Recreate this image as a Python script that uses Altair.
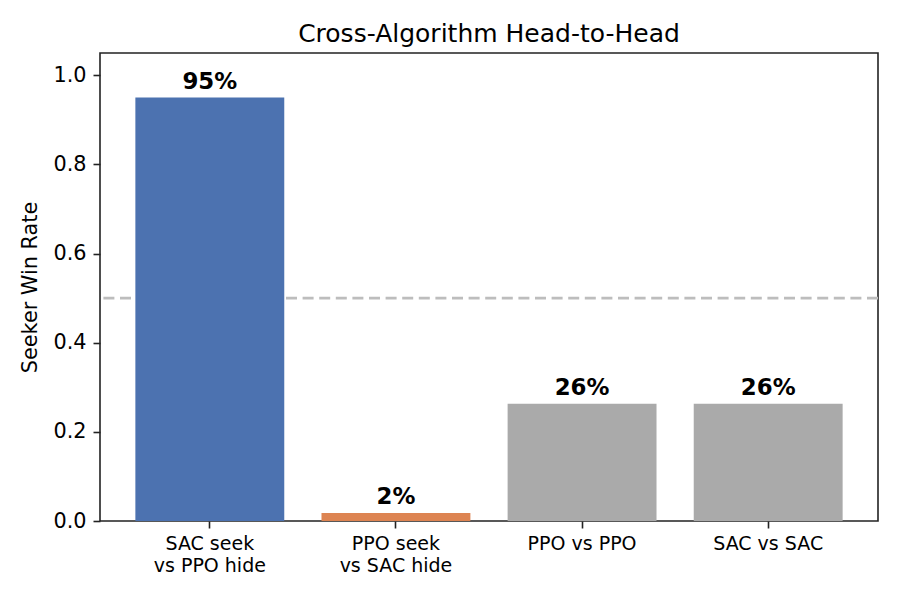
import pandas as pd
import altair as alt

# Data
matchups = ['SAC seek\nvs PPO hide', 'PPO seek\nvs SAC hide', 'PPO vs PPO', 'SAC vs SAC']
win_rates = [0.95, 0.018, 0.263, 0.263]
bar_colors = ['#4C72B0', '#DD8452', '#AAAAAA', '#AAAAAA']
chance_level = [0.5]

df = pd.DataFrame({'matchup': matchups, 'win_rate': win_rates, 'color': bar_colors})
ref = pd.DataFrame({'y': chance_level})

FONT = 'DejaVu Sans'

x_enc = alt.X('matchup:N', sort=matchups, title=None,
              scale=alt.Scale(paddingInner=0.2, paddingOuter=0.19),
              axis=alt.Axis(labelAngle=0, labelExpr="split(datum.label, '\\n')",
                            labelFontSize=19, labelLineHeight=22, labelPadding=6,
                            labelColor='#000', tickColor='#222', tickSize=7,
                            tickWidth=1.6, domain=False))
y_enc = alt.Y('win_rate:Q', title='Seeker Win Rate',
              scale=alt.Scale(domain=[0, 1.05], nice=False),
              axis=alt.Axis(values=[0, 0.2, 0.4, 0.6, 0.8, 1.0], format='.1f',
                            grid=False, labelFontSize=20.8, labelColor='#000',
                            labelPadding=7, tickColor='#222', tickSize=7, tickWidth=1.6,
                            titleFontSize=20.8, titleFontWeight='normal', titleColor='#000',
                            titlePadding=12, domain=False))

rule = alt.Chart(ref).mark_rule(color='#BDBDBD', strokeWidth=2.6, strokeDash=[11, 5.6]).encode(
    y=alt.Y('y:Q', scale=alt.Scale(domain=[0, 1.05], nice=False))
)

bars = alt.Chart(df).mark_bar().encode(
    x=x_enc,
    y=y_enc,
    color=alt.Color('color:N', scale=None),
)

text = alt.Chart(df).mark_text(dy=-9, baseline='alphabetic', fontSize=22.9,
                               fontWeight='bold', font=FONT, color='#000').encode(
    x=alt.X('matchup:N', sort=matchups),
    y='win_rate:Q',
    text=alt.Text('win_rate:Q', format='.0%'),
)

chart = alt.layer(rule, bars, text).properties(
    width=778,
    height=468,
    title=alt.TitleParams('Cross-Algorithm Head-to-Head', fontSize=25, fontWeight='normal',
                          font=FONT, color='#000', anchor='middle', offset=6),
    autosize=alt.AutoSizeParams(type='none'),
    padding={'left': 92, 'top': 45, 'right': 14, 'bottom': 71},
).configure(
    font=FONT
).configure_view(
    stroke='#222', strokeWidth=1.6
)

chart.save("out.html", embed_options={"renderer": "svg", "actions": False})
